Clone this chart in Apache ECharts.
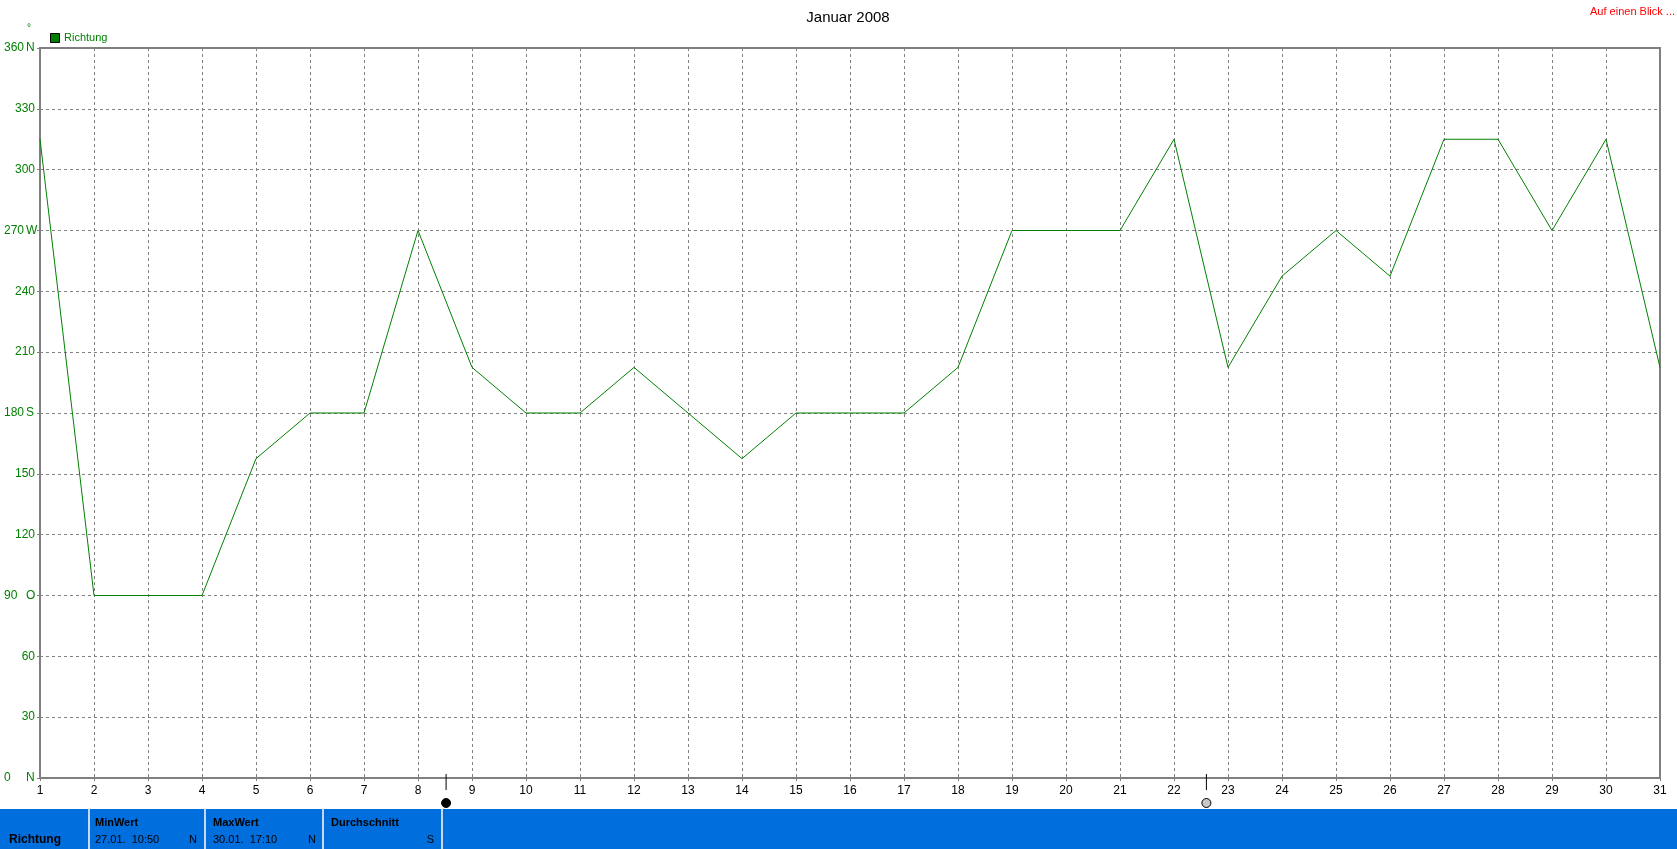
<!DOCTYPE html>
<html><head><meta charset="utf-8">
<script src="https://cdn.jsdelivr.net/npm/echarts@6/dist/echarts.min.js"></script>
<style>html,body{margin:0;padding:0;background:#fff}#c{width:1677px;height:849px}</style>
</head><body><div id="c"></div>
<script>
const days = [1,2,3,4,5,6,7,8,9,10,11,12,13,14,15,16,17,18,19,20,21,22,23,24,25,26,27,28,29,30,31];
const richtung = [315,90,90,90,157.5,180,180,270,202.5,180,180,202.5,180,157.5,180,180,180,202.5,270,270,270,315,202.5,247.5,270,247.5,315,315,270,315,202.5];
const yTicks = [0,30,60,90,120,150,180,210,240,270,300,330,360];
const yDirs = {0:'N',90:'O',180:'S',270:'W',360:'N'};
const moonPhases = [{day:8.52,type:'new'},{day:22.6,type:'full'}];
const summaryLabels = ['Richtung','MinWert','MaxWert','Durchschnitt'];
const summaryValues = ['','27.01.  10:50','30.01.  17:10',''];
const summaryDirs = ['','N','N','S'];

const chart = echarts.init(document.getElementById('c'));
const font = 'Liberation Sans, Arial, sans-serif';
const barY = 809;
const seps = [88,204,322,441];
const graphics = [
  {type:'rect',shape:{x:0,y:barY,width:1677,height:40},style:{fill:'#006EDC'},silent:true},
  {type:'text',x:1675,y:6,style:{text:'Auf einen Blick ...',fill:'#ff0000',font:'11px '+font,textAlign:'right'}},
  {type:'text',left:27,top:23,style:{text:'°',fill:'#008000',font:'10px '+font}},
  {type:'rect',shape:{x:50.5,y:33.5,width:9,height:9},style:{fill:'#008000',stroke:'#000',lineWidth:1}},
  {type:'text',left:64,top:32,style:{text:'Richtung',fill:'#008000',font:'11px '+font}}
];
seps.forEach(x=>graphics.push({type:'rect',shape:{x:x,y:barY,width:2,height:40},style:{fill:'#c8d8ec'}}));
const colStarts=[9,95,213,331];
const colEnds=[0,197,316,434];
for(let i=0;i<4;i++){
  if(i===0){
    graphics.push({type:'text',left:colStarts[i],top:834,style:{text:summaryLabels[i],fill:'#000',font:'bold 12px '+font}});
  } else {
    graphics.push({type:'text',left:colStarts[i],top:817,style:{text:summaryLabels[i],fill:'#000',font:'bold 11px '+font}});
    if(summaryValues[i]) graphics.push({type:'text',left:colStarts[i],top:834,style:{text:summaryValues[i],fill:'#000',font:'11px '+font,whiteSpace:'pre'}});
    graphics.push({type:'text',x:colEnds[i],y:834,style:{text:summaryDirs[i],fill:'#000',font:'11px '+font,textAlign:'right'}});
  }
}

chart.setOption({
  animation:false,
  title:{text:'Januar 2008',left:843,textAlign:'center',top:5,textStyle:{fontFamily:font,fontWeight:'normal',fontSize:15,color:'#000'}},
  grid:{left:40,right:17,top:48,bottom:71,show:true,borderColor:'#808080',borderWidth:2,backgroundColor:'transparent'},
  xAxis:{type:'value',min:1,max:31,interval:1,
    axisLine:{show:false},
    axisTick:{show:true,length:3,lineStyle:{color:'#808080'}},
    axisLabel:{color:'#000',fontFamily:font,fontSize:12,margin:7},
    splitLine:{show:true,lineStyle:{color:'#808080',type:[3,3],width:1}}},
  yAxis:{type:'value',min:0,max:360,interval:30,
    axisLine:{show:false},
    axisTick:{show:true,length:3,lineStyle:{color:'#808080'}},
    axisLabel:{fontFamily:font,fontSize:12,color:'#008000',margin:5,
      formatter:v=>yDirs[v]!==undefined?('{n|'+v+'}{d|'+yDirs[v]+'}'):String(v),
      rich:{n:{width:22,align:'left',color:'#008000',fontFamily:font,fontSize:12},d:{width:9,align:'left',color:'#008000',fontFamily:font,fontSize:12}}},
    splitLine:{show:true,lineStyle:{color:'#808080',type:[3,3],width:1}}},
  graphic:graphics,
  series:[
    {type:'line',name:'Richtung',data:days.map((d,i)=>[d,richtung[i]]),showSymbol:false,symbol:'none',
     lineStyle:{color:'#008000',width:1},itemStyle:{color:'#008000'},z:3},
    {type:'custom',clip:false,data:moonPhases.map(m=>[m.day,0,m.type==='new'?1:0]),
     renderItem:(params,api)=>{
       const p=api.coord([api.value(0),0]);
       const isNew=api.value(2)===1;
       return {type:'group',children:[
         {type:'line',shape:{x1:p[0],y1:p[1]-4,x2:p[0],y2:p[1]+12},style:{stroke:'#000',lineWidth:1}},
         {type:'circle',shape:{cx:p[0],cy:p[1]+25,r:4.5},style:{fill:isNew?'#000':'#c8c8c8',stroke:'#000',lineWidth:1}}
       ]};
     },z:5}
  ]
});
</script></body></html>
